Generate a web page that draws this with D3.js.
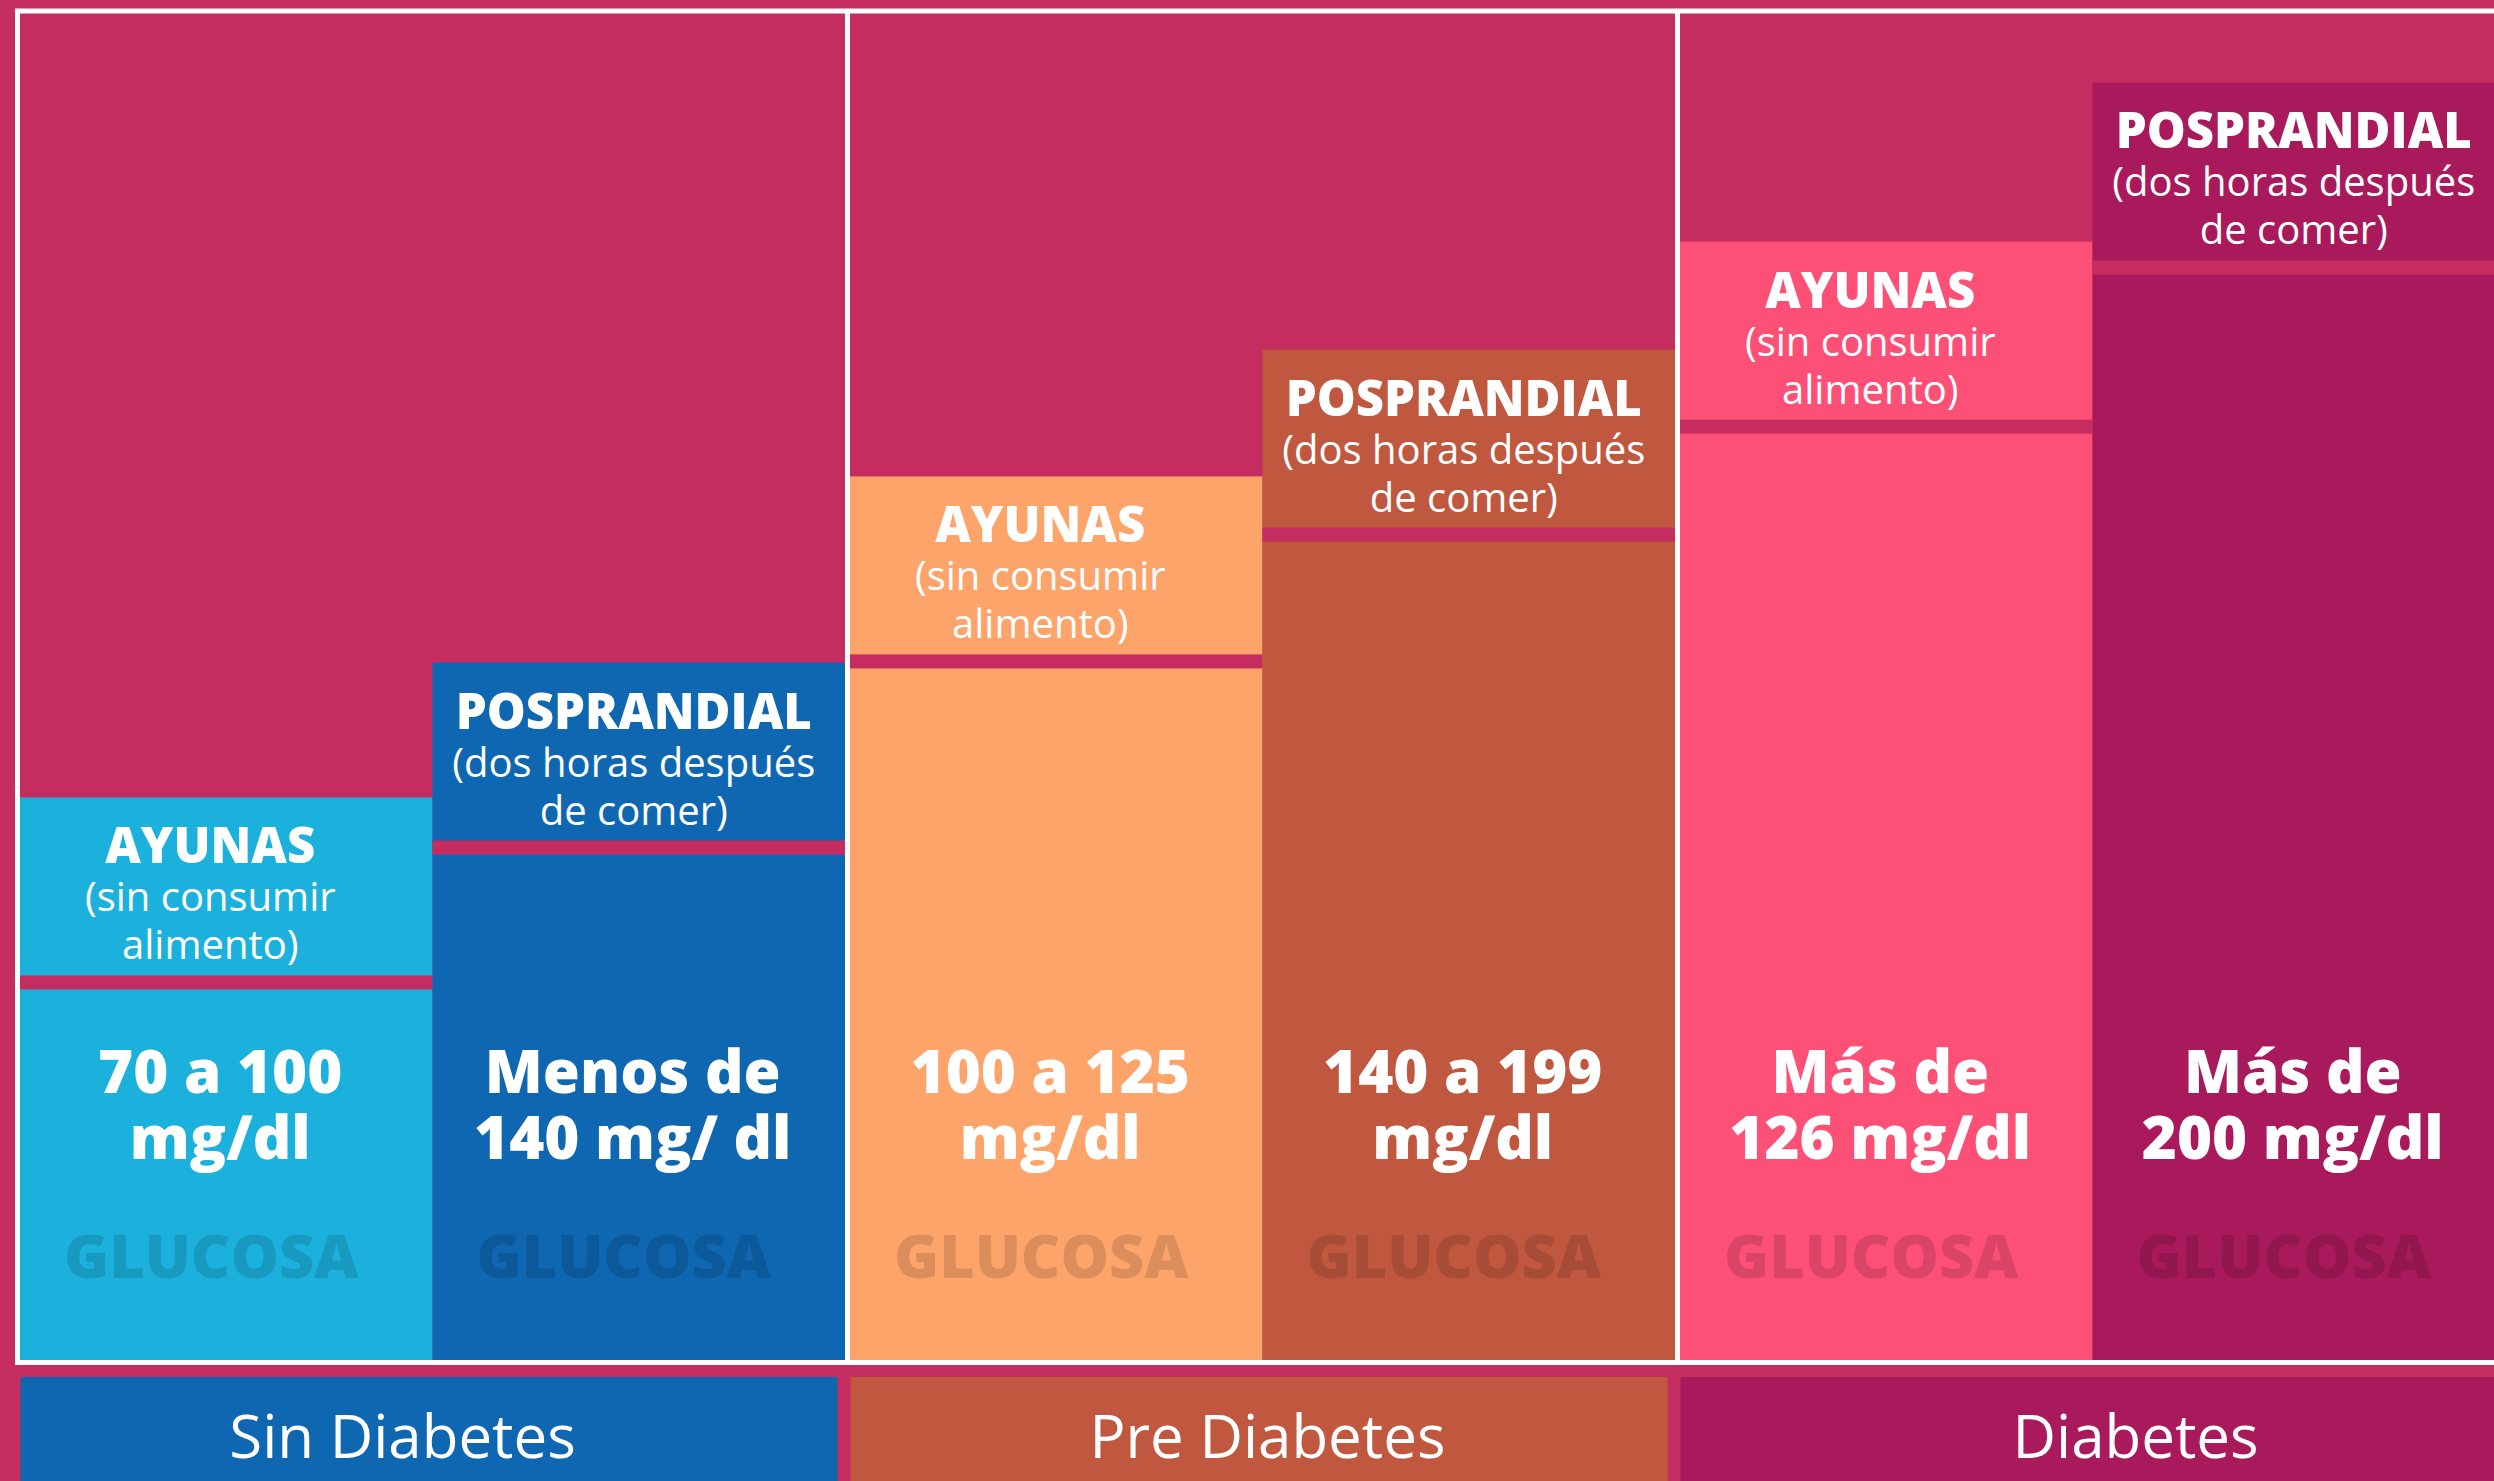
<!DOCTYPE html>
<html>
<head>
<meta charset="utf-8">
<script src="https://cdn.jsdelivr.net/npm/d3@7"></script>
<style>
  html, body { margin: 0; padding: 0; background: #c52c60; overflow: hidden; }
  svg { display: block; font-family: "Open Sans", sans-serif; }
</style>
</head>
<body>
<div id="chart"></div>
<script>
// data
const categories = ["Sin Diabetes", "Pre Diabetes", "Diabetes"];
const series = ["AYUNAS", "POSPRANDIAL"];
const seriesNotes = [["(sin consumir", "alimento)"], ["(dos horas después", "de comer)"]];
// bar height, as % of the frame height
const ayunasLevel = [41.7, 65.5, 82.9];
const posprandialLevel = [51.7, 74.9, 94.7];
const ayunasRange = [["70 a 100", "mg/dl"], ["100 a 125", "mg/dl"], ["Más de", "126 mg/dl"]];
const posprandialRange = [["Menos de", "140 mg/ dl"], ["140 a 199", "mg/dl"], ["Más de", "200 mg/dl"]];
const watermark = "GLUCOSA";

// colours
const bg = "#c52c60";
const ayunasColors = ["#1cb1dc", "#fda46a", "#fc5077"];
const posprandialColors = ["#0e67b0", "#bf583f", "#a81a5b"];

const width = 2494;
const height = 1481;
const frameTop = 11;
const frameLeft = 17.5;
const colStep = 830;
const base = 1360;
const labelBox = 178;   // height of the header part of each bar
const sepH = 14;
const legendDx = [-30, 5, 43];

const rows = [];
categories.forEach((c, i) => {
  rows.push({cat: c, ser: series[0], i, j: 0, v: ayunasLevel[i], range: ayunasRange[i], color: ayunasColors[i]});
  rows.push({cat: c, ser: series[1], i, j: 1, v: posprandialLevel[i], range: posprandialRange[i], color: posprandialColors[i]});
});

const x0 = d3.scaleBand().domain(categories).range([frameLeft, frameLeft + colStep * categories.length]);
const x1 = d3.scaleBand().domain(series).range([0, x0.bandwidth() - 5]);
const y = d3.scaleLinear().domain([0, 100]).range([base, frameTop]);

const svg = d3.select("#chart").append("svg")
    .attr("width", width)
    .attr("height", height)
    .attr("viewBox", [0, 0, width, height]);

svg.append("rect").attr("width", width).attr("height", height).attr("fill", bg);

const bar = svg.selectAll("g.bar")
  .data(rows)
  .join("g")
    .attr("class", "bar")
    .attr("transform", d => `translate(${x0(d.cat) + 2.5 + x1(d.ser)},0)`);

bar.append("rect")
    .attr("y", d => y(d.v))
    .attr("width", x1.bandwidth())
    .attr("height", d => y(0) - y(d.v))
    .attr("fill", d => d.color);

// pink separator under the header
bar.append("rect")
    .attr("y", d => y(d.v) + labelBox)
    .attr("width", x1.bandwidth())
    .attr("height", sepH)
    .attr("fill", bg);

const cx = x1.bandwidth() / 2;
const headDx = [-16, -5];

// header: title + two note lines in one text block
const head = bar.append("text")
    .attr("text-anchor", "middle")
    .attr("fill", "#fff");

head.append("tspan")
    .attr("x", d => cx + headDx[d.j])
    .attr("y", d => y(d.v) + 66)
    .style("font-weight", 800)
    .style("font-size", "49px")
    .text(d => d.ser);

[0, 1].forEach(k => {
  head.append("tspan")
      .attr("x", d => cx + headDx[d.j])
      .attr("y", d => y(d.v) + 114 + k * 48)
      .style("font-size", "40px")
      .text(d => seriesNotes[d.j][k]);
});

// glucose range, two lines
const val = bar.append("text")
    .attr("text-anchor", "middle")
    .attr("fill", "#fff")
    .style("font-weight", 800)
    .style("font-size", "60px");

[0, 1].forEach(k => {
  val.append("tspan")
      .attr("x", cx - 6)
      .attr("y", base - 267 + k * 66)
      .text(d => d.range[k]);
});

bar.append("text")
    .attr("x", cx - 15)
    .attr("y", base - 82)
    .attr("text-anchor", "middle")
    .attr("fill", d => d3.color(d.color).darker(0.4))
    .style("font-weight", 800)
    .style("font-size", "61px")
    .text(watermark);

// white frame
svg.append("rect")
    .attr("x", frameLeft)
    .attr("y", frameTop)
    .attr("width", colStep * categories.length)
    .attr("height", base + 2.5 - frameTop)
    .attr("fill", "none")
    .attr("stroke", "#fff")
    .attr("stroke-width", 5);

svg.selectAll("line.div")
  .data(categories.slice(1))
  .join("line")
    .attr("class", "div")
    .attr("x1", d => x0(d))
    .attr("x2", d => x0(d))
    .attr("y1", frameTop)
    .attr("y2", base + 2.5)
    .attr("stroke", "#fff")
    .attr("stroke-width", 5);

// category boxes at the bottom
const leg = svg.selectAll("g.leg")
  .data(categories)
  .join("g")
    .attr("class", "leg")
    .attr("transform", d => `translate(${x0(d)},1377)`);

leg.append("rect")
    .attr("x", 3)
    .attr("width", x0.bandwidth() - 13)
    .attr("height", 200)
    .attr("fill", (d, i) => posprandialColors[i]);

leg.append("text")
    .attr("x", (d, i) => x0.bandwidth() / 2 + legendDx[i])
    .attr("y", 81)
    .attr("text-anchor", "middle")
    .attr("fill", "#fff")
    .style("font-size", "60px")
    .text(d => d);
</script>
</body>
</html>
